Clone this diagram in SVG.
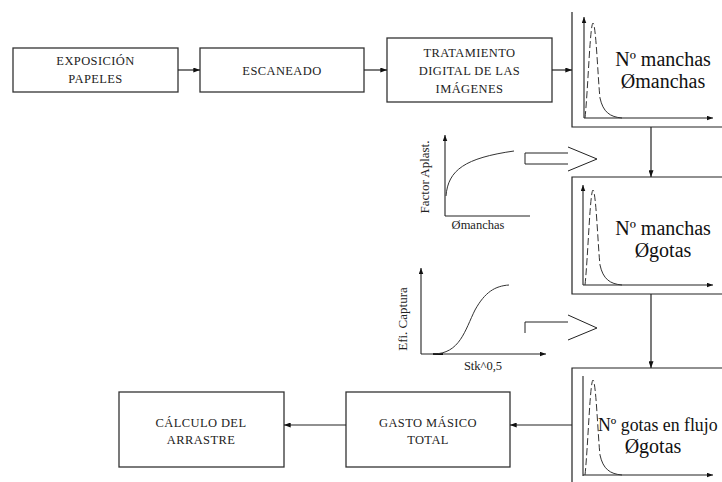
<svg xmlns="http://www.w3.org/2000/svg" width="722" height="482" viewBox="0 0 722 482" font-family="'Liberation Serif', 'Times New Roman', serif">
<defs>
<marker id="ah" viewBox="0 0 8 6" refX="8" refY="3" markerWidth="7" markerHeight="5" markerUnits="userSpaceOnUse" orient="auto"><path d="M0,0 L8,3 L0,6 Z" fill="#111"/></marker>
<marker id="ahs" viewBox="0 0 8 6" refX="8" refY="3" markerWidth="6" markerHeight="5" markerUnits="userSpaceOnUse" orient="auto"><path d="M0,0 L8,3 L0,6 Z" fill="#111"/></marker>
</defs>
<style>
.box{fill:#fff;stroke:#333;stroke-width:1.3}
.ln{fill:none;stroke:#222;stroke-width:1.2}
.thin{stroke-width:1}
.ax{fill:none;stroke:#222;stroke-width:1.1}
.dash{fill:none;stroke:#333;stroke-width:1;stroke-dasharray:7,3}
.cv{fill:none;stroke:#333;stroke-width:1}
text{font-family:'Liberation Serif','Times New Roman',serif}
.bt{font-size:12.5px;fill:#222;text-anchor:middle;letter-spacing:0.4px}
.gt{font-size:20px;fill:#111;text-anchor:middle}
.gl{font-size:17.8px;fill:#111;text-anchor:start}
.st{font-size:12.5px;fill:#222;text-anchor:middle}
.rt{font-size:13px;fill:#222;text-anchor:middle}
</style>
<rect width="722" height="482" fill="#fff"/>

<g id="exposicion">
<rect class="box" x="13" y="48" width="165" height="44"/>
<text class="bt" x="95.5" y="65">EXPOSICIÓN</text>
<text class="bt" x="95.5" y="83">PAPELES</text>
</g>
<g id="escaneado">
<rect class="box" x="200" y="48" width="164" height="44"/>
<text class="bt" x="282" y="75">ESCANEADO</text>
</g>
<g id="tratamiento">
<rect class="box" x="387" y="38" width="165" height="64"/>
<text class="bt" x="469.5" y="57">TRATAMIENTO</text>
<text class="bt" x="469.5" y="75">DIGITAL DE LAS</text>
<text class="bt" x="469.5" y="93">IMÁGENES</text>
</g>

<g id="dist1">
<path class="ln" d="M572,12 V127 H722"/>
<line class="ax" x1="584" y1="118" x2="584" y2="17" marker-end="url(#ahs)"/>
<line class="ax" x1="584" y1="118" x2="713" y2="118" marker-end="url(#ahs)"/>
<path class="dash" d="M585,118 C588,90 590,24 593,23 C596,24 598,80 600,98"/>
<path class="cv" d="M600,98 C603,112 610,117 622,118"/>
<text class="gt" x="663" y="66">Nº manchas</text>
<text class="gt" x="663" y="88">Ømanchas</text>
</g>

<g id="dist2">
<path class="ln" d="M722,177 H572 V294 H722"/>
<line class="ax" x1="583" y1="285" x2="583" y2="185" marker-end="url(#ahs)"/>
<line class="ax" x1="583" y1="285" x2="713" y2="285" marker-end="url(#ahs)"/>
<path class="dash" d="M585,285 C588,257 590,191 593,190 C596,191 598,247 600,265"/>
<path class="cv" d="M600,265 C603,279 610,284 622,285"/>
<text class="gt" x="663" y="235">Nº manchas</text>
<text class="gt" x="663" y="257">Øgotas</text>
</g>

<g id="dist3">
<path class="ln" d="M722,368 H572 V482"/>
<line class="ax" x1="583" y1="476" x2="583" y2="376"/>
<line class="ax" x1="583" y1="475" x2="713" y2="475" marker-end="url(#ahs)"/>
<path class="dash" d="M585,475 C588,447 590,381 593,380 C596,381 598,437 600,455"/>
<path class="cv" d="M600,455 C603,469 610,474 622,475"/>
<text class="gl" x="598" y="431">Nº gotas en flujo</text>
<text class="gt" x="653" y="453">Øgotas</text>
</g>

<g id="gasto">
<rect class="box" x="346" y="392" width="164" height="75"/>
<text class="bt" x="428" y="427">GASTO MÁSICO</text>
<text class="bt" x="428" y="444">TOTAL</text>
</g>
<g id="calculo">
<rect class="box" x="119" y="392" width="165" height="75"/>
<text class="bt" x="201" y="427">CÁLCULO DEL</text>
<text class="bt" x="201" y="444">ARRASTRE</text>
</g>

<g id="factor-aplast">
<line class="ax" x1="445" y1="216" x2="445" y2="135" marker-end="url(#ahs)"/>
<line class="ax" x1="445" y1="216" x2="530" y2="216"/>
<path class="cv" d="M446,196 C448,170 465,158 514,151"/>
<text class="rt" transform="translate(429,177) rotate(-90)">Factor Aplast.</text>
<text class="st" x="478" y="229">Ømanchas</text>
<path class="ln thin" d="M568,153 H525 V164 H568"/>
<path class="ln thin" d="M568,147 L597,159 L568,171"/>
</g>

<g id="efi-captura">
<line class="ax" x1="421" y1="354" x2="421" y2="268" marker-end="url(#ahs)"/>
<line class="ax" x1="421" y1="354" x2="546" y2="354" marker-end="url(#ahs)"/>
<line x1="433" y1="354" x2="443" y2="354" stroke="#111" stroke-width="2"/>
<path class="cv" d="M433,354 C460,354 465,330 475,310 C485,292 495,286 509,285"/>
<text class="rt" transform="translate(407,319) rotate(-90)">Efi. Captura</text>
<text class="st" x="483" y="370">Stk^0,5</text>
<path class="ln thin" d="M525,333 V322 H568"/>
<path class="ln thin" d="M568,315 L597,328 L568,340"/>
</g>

<g id="connectors">
<line class="ln" x1="178" y1="70" x2="200" y2="70" marker-end="url(#ah)"/>
<line class="ln" x1="364" y1="70" x2="387" y2="70" marker-end="url(#ah)"/>
<line class="ln" x1="552" y1="70" x2="572" y2="70" marker-end="url(#ah)"/>
<line class="ln" x1="651" y1="127" x2="651" y2="177" marker-end="url(#ah)"/>
<line class="ln" x1="651" y1="294" x2="651" y2="368" marker-end="url(#ah)"/>
<line class="ln" x1="572" y1="425" x2="510" y2="425" marker-end="url(#ah)"/>
<line class="ln" x1="346" y1="425" x2="284" y2="425" marker-end="url(#ah)"/>
</g>
</svg>
